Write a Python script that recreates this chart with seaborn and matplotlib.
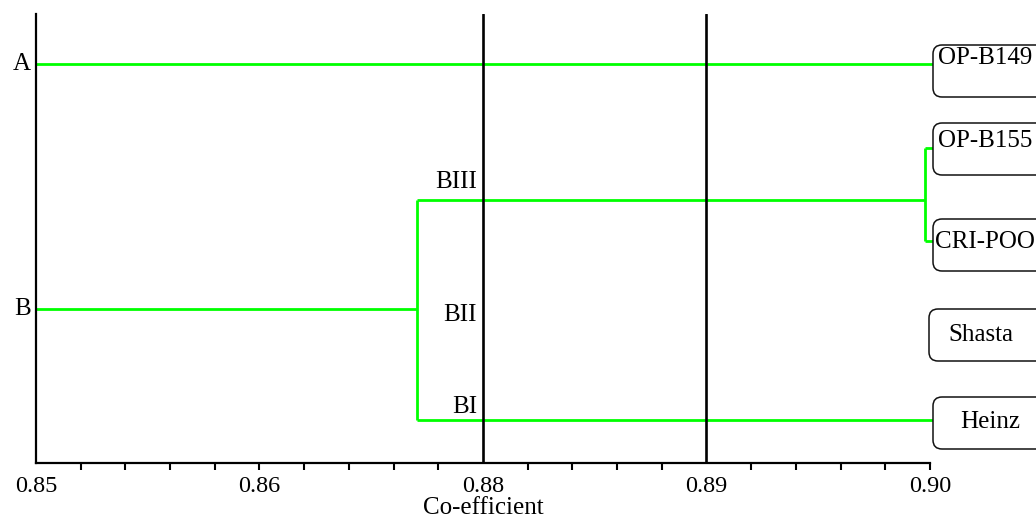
import numpy as np
import pandas as pd
import seaborn as sns
import matplotlib
matplotlib.use("Agg")
import matplotlib.pyplot as plt
from matplotlib.patches import FancyBboxPatch
from matplotlib.transforms import IdentityTransform
from matplotlib.ticker import FixedLocator

# ---------------- data ----------------
leaf_names = ["OP-B149", "OP-B155", "CRI-POO", "Shasta", "Heinz"]
leaf_y = [399, 315, 222, 130, 43]          # vertical order of the leaves
leaf_coef = 0.9002                          # leaves (lines run to the label boxes)
root_coef = 0.85
group_names = ["A", "B"]
group_y = [399, 154]
b_split_coef = 0.8713
sub_names = ["BIII", "BII", "BI"]
sub_y = [263, 154, 43]
biii_coef = 0.8997
ref_lines = [0.875, 0.8875]
major_ticks = [0.85, 0.8625, 0.875, 0.8875, 0.90]
major_labels = ["0.85", "0.86", "0.88", "0.89", "0.90"]
x_label = "Co-efficient"

# ---------------- build dendrogram segments ----------------
segs = [
    [(root_coef, group_y[0]), (leaf_coef, leaf_y[0])],
    [(root_coef, group_y[1]), (b_split_coef, group_y[1])],
    [(b_split_coef, sub_y[0]), (b_split_coef, sub_y[2])],
    [(b_split_coef, sub_y[0]), (biii_coef, sub_y[0])],
    [(biii_coef, leaf_y[1]), (biii_coef, leaf_y[2])],
    [(biii_coef, leaf_y[1]), (leaf_coef, leaf_y[1])],
    [(biii_coef, leaf_y[2]), (leaf_coef, leaf_y[2])],
    [(b_split_coef, sub_y[2]), (leaf_coef, leaf_y[4])],
]
rows = []
for i, s in enumerate(segs):
    for (x, y) in s:
        rows.append({"seg": i, "x": x, "y": y})
df = pd.DataFrame(rows)

# ---------------- figure ----------------
sns.set_theme(style="white")
plt.rcParams["font.family"] = ["Liberation Serif", "DejaVu Serif"]
FS = 18
FS_TICK = 17.5

fig = plt.figure(figsize=(10.36, 5.17), dpi=100)
ax = fig.add_axes([36 / 1036, 54 / 517, 894 / 1036, 449 / 517])

sns.lineplot(data=df, x="x", y="y", units="seg", estimator=None, sort=False,
             color="#00ff00", lw=2.0, ax=ax, legend=False)
for ln in ax.lines:
    ln.set_clip_on(False)
    ln.set_solid_capstyle("butt")
    ln.set_zorder(2)

for xv in ref_lines:
    ax.axvline(xv, color="black", lw=1.9, zorder=3)

ax.set_xlim(0.85, 0.90)
ax.set_ylim(0, 449)

for sp in ["top", "right"]:
    ax.spines[sp].set_visible(False)
for sp in ["left", "bottom"]:
    ax.spines[sp].set_color("black")
    ax.spines[sp].set_linewidth(1.6)
    ax.spines[sp].set_zorder(4)

ax.set_yticks([])
ax.set_ylabel("")
ax.set_xticks(major_ticks)
ax.set_xticklabels(major_labels, fontsize=FS_TICK)
minor = [0.85 + 0.0025 * k for k in range(1, 21)]
minor = [m for m in minor if all(abs(m - r) > 1e-6 for r in ref_lines)]
ax.xaxis.set_minor_locator(FixedLocator(minor))
ax.xaxis.remove_overlapping_locs = False
ax.tick_params(axis="x", which="major", length=0, pad=9, colors="black")
ax.tick_params(axis="x", which="minor", length=5, width=1.5, direction="out",
               colors="black", bottom=True)
ax.set_xlabel(x_label, fontsize=FS, labelpad=0, color="black")

# cluster labels
for name, y in zip(group_names, group_y):
    ax.annotate(name, xy=(root_coef, y), xytext=(-3.6, -4.3),
                textcoords="offset points", ha="right", va="baseline",
                fontsize=FS, color="black", annotation_clip=False)
sub_off = [8.6, -8.6, 5.0]
for name, y, dy in zip(sub_names, sub_y, sub_off):
    ax.annotate(name, xy=(ref_lines[0], y), xytext=(-4.3, dy),
                textcoords="offset points", ha="right", va="baseline",
                fontsize=FS, color="black", annotation_clip=False)

# leaf label boxes (pixel offsets from the leaf positions)
box_dx = [3, 3, 3, -1, 3]
box_top = [19, 25, 22, 24, 23]      # box top above the leaf line (px)
txt_base = [0, 1, -7, -8, -8]       # text baseline above the leaf line (px)
txt_dx = [52, 52, 52, 52, 57]
for name, y, bdx, bt, tb, tdx in zip(leaf_names, leaf_y, box_dx, box_top,
                                     txt_base, txt_dx):
    px, py = ax.transData.transform((0.90, y))
    left = px + bdx
    box = FancyBboxPatch((left, py + bt - 52), 140, 52,
                         boxstyle="round,pad=0,rounding_size=9",
                         transform=IdentityTransform(), facecolor="white",
                         edgecolor="#111111", lw=1.1, zorder=5, clip_on=False)
    fig.patches.append(box)
    box.set_figure(fig)
    fig.text(left + tdx, py + tb, name, transform=IdentityTransform(),
             ha="center", va="baseline", fontsize=FS, color="black", zorder=6)

fig.savefig("out.png", dpi=100, facecolor="white")
